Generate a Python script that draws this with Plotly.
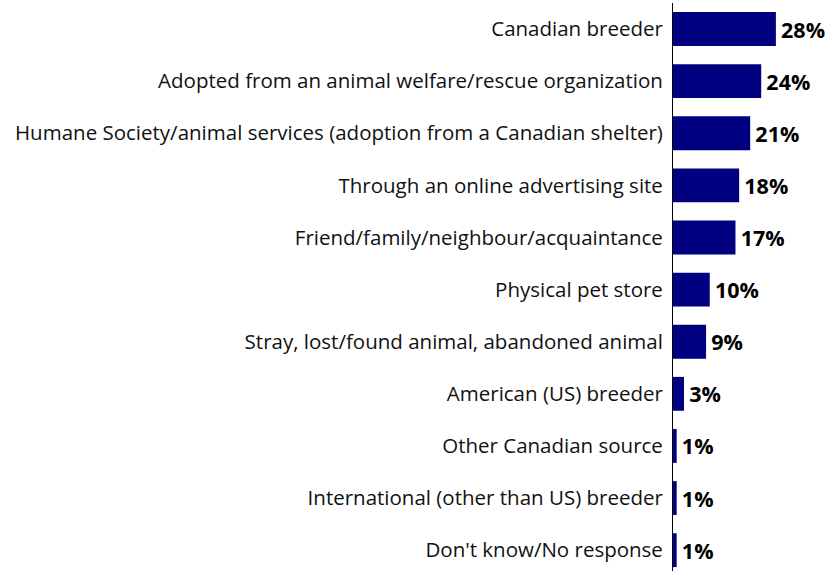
import plotly.graph_objects as go

categories = [
    "Canadian breeder",
    "Adopted from an animal welfare/rescue organization",
    "Humane Society/animal services (adoption from a Canadian shelter)",
    "Through an online advertising site",
    "Friend/family/neighbour/acquaintance",
    "Physical pet store",
    "Stray, lost/found animal, abandoned animal",
    "American (US) breeder",
    "Other Canadian source",
    "International (other than US) breeder",
    "Don't know/No response",
]
values = [28, 24, 21, 18, 17, 10, 9, 3, 1, 1, 1]
value_labels = [f"\u200a{v}%" for v in values]

fig = go.Figure(go.Bar(
    x=values,
    y=categories,
    orientation="h",
    marker=dict(color="#000080", line=dict(width=0)),
    text=value_labels,
    textposition="outside",
    textfont=dict(family="Open Sans", size=21.5, color="black", weight="bold"),
    cliponaxis=False,
    width=0.65,
    hoverinfo="skip",
))

fig.update_layout(
    width=832,
    height=571,
    margin=dict(l=673, r=12, t=3, b=0, autoexpand=False),
    paper_bgcolor="white",
    plot_bgcolor="white",
    showlegend=False,
    font=dict(family="Open Sans", size=20.5, color="black"),
    xaxis=dict(range=[0, 40], visible=False, showgrid=False, zeroline=False,
               automargin=False),
    yaxis=dict(
        type="category",
        range=[10.4, -0.5],
        automargin=False,
        showline=True,
        linecolor="black",
        linewidth=1,
        showgrid=False,
        zeroline=False,
        ticks="",
        ticklabelstandoff=5,
        tickfont=dict(family="Open Sans", size=20.5, color="#111111"),
    ),
)

fig.write_html(
    "out.html",
    config={"displayModeBar": False},
    post_script="document.body.style.margin='0';document.body.style.overflow='hidden';",
)
